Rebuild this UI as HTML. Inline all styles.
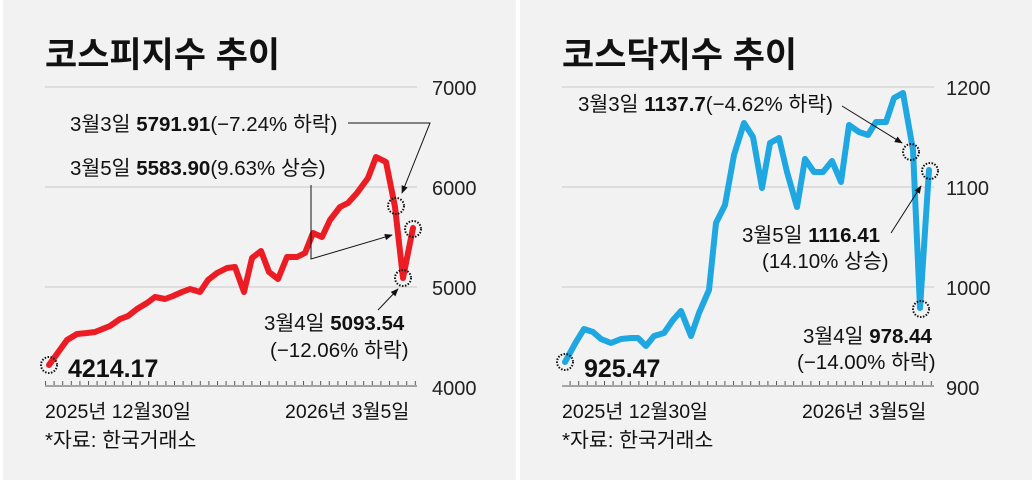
<!DOCTYPE html>
<html><head><meta charset="utf-8"><style>
body{margin:0;background:#fff;width:1032px;height:480px;overflow:hidden}
svg{display:block}
text{font-family:"Liberation Sans","Noto Sans CJK KR",sans-serif;fill:#111}
.t{font-weight:bold;font-size:35px}
.ax{font-size:20px;fill:#222}
.lb{font-size:20.5px}
.ft{font-size:19.5px}
.b{font-weight:bold}
.g{stroke:#c8c8c8;stroke-width:1}
</style></head><body>
<svg width="1032" height="480" viewBox="0 0 1032 480">
<defs>
<pattern id="tk" x="45" y="0" width="8.6" height="10" patternUnits="userSpaceOnUse"><line x1="0.5" y1="0" x2="0.5" y2="5" stroke="#555" stroke-width="1"/></pattern>
<marker id="ar" viewBox="0 0 10 10" refX="9" refY="5" markerWidth="8" markerHeight="8" orient="auto-start-reverse"><path d="M0,1 L10,5 L0,9z" fill="#111"/></marker>
</defs>
<rect x="3" y="0" width="513" height="480" fill="#f2f2f2"/>
<rect x="520" y="0" width="512" height="480" fill="#f2f2f2"/>

<!-- LEFT -->
<text x="45" y="67" class="t">코스피지수 추이</text>
<line x1="45" y1="87" x2="417" y2="87" class="g"/>
<line x1="45" y1="187" x2="417" y2="187" class="g"/>
<line x1="45" y1="287" x2="417" y2="287" class="g"/>
<rect x="45" y="381" width="372" height="5" fill="url(#tk)"/>
<line x1="45" y1="386" x2="417" y2="386" stroke="#555"/>
<text x="432" y="95" class="ax">7000</text>
<text x="432" y="195" class="ax">6000</text>
<text x="432" y="295" class="ax">5000</text>
<text x="432" y="395" class="ax">4000</text>
<polyline fill="none" stroke="#ec1c24" stroke-width="6" stroke-linejoin="round" stroke-linecap="round" points="49,365 67,340 77,334 87,333 95,332 110,326 120,319 128,316 137,309 147,303 155,297 165,299 173,296 182,292 190,289 200,292 208,280 217,273 227,268 235,267 244,292 252,258 261,251 269,272 278,279 287,257 297,257 305,253 313,233 322,237 330,220 340,207 348,203 357,193 368,178 376,157 386,162 395,207 403,278 413,228"/>
<circle cx="49" cy="365" r="8" fill="none" stroke="#111" stroke-width="2" stroke-dasharray="1.5 1.5"/>
<circle cx="396" cy="206" r="8" fill="none" stroke="#111" stroke-width="2" stroke-dasharray="1.5 1.5"/>
<circle cx="413" cy="229" r="8" fill="none" stroke="#111" stroke-width="2" stroke-dasharray="1.5 1.5"/>
<circle cx="403" cy="278" r="8" fill="none" stroke="#111" stroke-width="2" stroke-dasharray="1.5 1.5"/>
<text x="68" y="377" style="font-size:25px" class="b">4214.17</text>
<text x="70" y="131" class="lb">3월3일 <tspan class="b">5791.91</tspan>(−7.24% 하락)</text>
<polyline fill="none" stroke="#111" stroke-width="1" points="348,123 430,123 402,193" marker-end="url(#ar)"/>
<text x="70" y="175" class="lb">3월5일 <tspan class="b">5583.90</tspan>(9.63% 상승)</text>
<polyline fill="none" stroke="#111" stroke-width="1" points="311,185 311,259 392,235" marker-end="url(#ar)"/>
<text x="264" y="330" class="lb">3월4일 <tspan class="b">5093.54</tspan></text>
<text x="270" y="357" class="lb">(−12.06% 하락)</text>
<line x1="378" y1="310" x2="398" y2="289" stroke="#111" marker-end="url(#ar)"/>
<text x="45" y="418" class="ft">2025년 12월30일</text>
<text x="285" y="418" class="ft">2026년 3월5일</text>
<text x="45" y="447" class="lb">*자료: 한국거래소</text>

<!-- RIGHT -->
<text x="562" y="67" class="t">코스닥지수 추이</text>
<line x1="562" y1="87" x2="934" y2="87" class="g"/>
<line x1="562" y1="187" x2="934" y2="187" class="g"/>
<line x1="562" y1="287" x2="934" y2="287" class="g"/>
<rect x="562" y="381" width="372" height="5" fill="url(#tk)"/>
<line x1="562" y1="386" x2="934" y2="386" stroke="#555"/>
<text x="946" y="95" class="ax">1200</text>
<text x="946" y="195" class="ax">1100</text>
<text x="946" y="295" class="ax">1000</text>
<text x="946" y="395" class="ax">900</text>
<polyline fill="none" stroke="#1ea7e1" stroke-width="6" stroke-linejoin="round" stroke-linecap="round" points="565,362 576,342 584,329 593,332 601,339 611,343 621,339 631,338 638,338 646,346 654,336 664,333 673,320 681,311 691,336 699,313 709,290 716,223 725,205 734,155 744,123 753,137 762,188 770,143 779,138 787,172 797,207 805,159 814,172 823,172 832,161 841,182 849,125 859,132 868,135 876,122 886,122 894,98 903,93 913,150 920,308 929,170"/>
<circle cx="565" cy="362" r="8" fill="none" stroke="#111" stroke-width="2" stroke-dasharray="1.5 1.5"/>
<circle cx="911" cy="152" r="8" fill="none" stroke="#111" stroke-width="2" stroke-dasharray="1.5 1.5"/>
<circle cx="930" cy="171" r="8" fill="none" stroke="#111" stroke-width="2" stroke-dasharray="1.5 1.5"/>
<circle cx="921" cy="309" r="8" fill="none" stroke="#111" stroke-width="2" stroke-dasharray="1.5 1.5"/>
<text x="584" y="377" style="font-size:25px" class="b">925.47</text>
<text x="578" y="111" class="lb">3월3일 <tspan class="b">1137.7</tspan>(−4.62% 하락)</text>
<line x1="842" y1="106" x2="902" y2="143" stroke="#111" marker-end="url(#ar)"/>
<text x="742" y="242" class="lb">3월5일 <tspan class="b">1116.41</tspan></text>
<text x="762" y="268" class="lb">(14.10% 상승)</text>
<line x1="891" y1="233" x2="921" y2="186" stroke="#111" marker-end="url(#ar)"/>
<text x="803" y="343" class="lb">3월4일 <tspan class="b">978.44</tspan></text>
<text x="797" y="369" class="lb">(−14.00% 하락)</text>
<text x="562" y="418" class="ft">2025년 12월30일</text>
<text x="802" y="418" class="ft">2026년 3월5일</text>
<text x="562" y="447" class="lb">*자료: 한국거래소</text>
</svg>
</body></html>
